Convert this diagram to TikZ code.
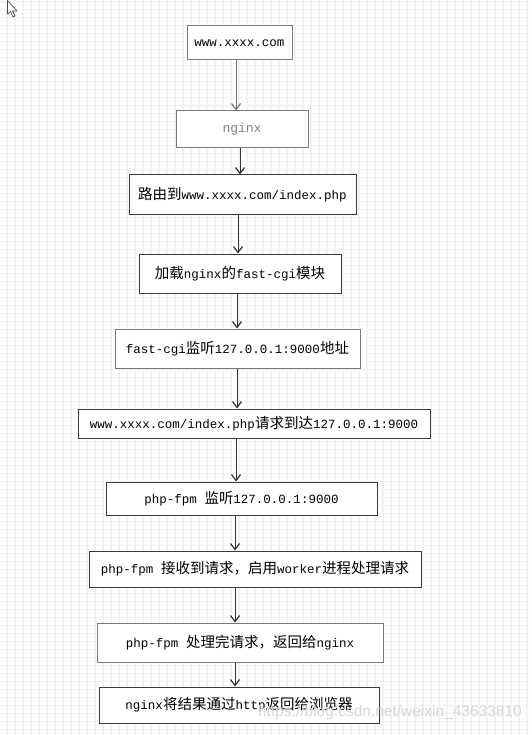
\documentclass[tikz,border=0pt]{standalone}
\usepackage{fontspec}
\setmainfont{Liberation Mono}
\newfontfamily\cjk{Noto Sans CJK SC}
\newfontfamily\wmfont{Liberation Sans}
\usetikzlibrary{arrows.meta}
\newcommand\zh[1]{{\fontsize{14.5}{16}\cjk #1}}
\definecolor{gridc}{HTML}{F2F2F2}
\definecolor{boxc}{HTML}{3A3A3A}
\definecolor{boxg}{HTML}{7A7A7A}
\definecolor{wmc}{HTML}{D6D6D6}
\tikzset{
  box/.style={draw=boxc, line width=1pt, fill=white, inner sep=0pt, font=\fontsize{12.5}{14}\selectfont},
  grayb/.style={draw=boxg},
  arr/.style={draw=black!80, line width=0.9pt, -{Straight Barb[length=6pt,width=9pt,line width=1.2pt]}},
  gline/.style={draw=gridc, line width=1.3pt}
}
\begin{document}
\begin{tikzpicture}[x=1pt,y=-1pt]
\useasboundingbox (0,0) rectangle (531,735);
\fill[white] (0,0) rectangle (531,735);
\foreach \k in {0,...,65} {\draw[gline] (7+8*\k,0) -- (7+8*\k,735);}
\foreach \k in {0,...,91} {\draw[gline] (0,1.5+8*\k) -- (531,1.5+8*\k);}
% cursor
\draw[draw=black!70, fill=white, line width=0.7pt, line join=round]
  (7.5,0.5) -- (7.5,14) -- (10.5,11.5) -- (13,17) -- (15,16) -- (12.5,11) -- (17,11) -- cycle;
% nodes
\node[box, grayb, minimum width=105, minimum height=34] (n1) at (239.5,43) {www.xxxx.com};
\node[box, grayb, minimum width=132, minimum height=37, text=black!50, font=\fontsize{13}{14}\selectfont] (n2) at (242,129.5) {nginx};
\node[box, minimum width=227, minimum height=40] (n3) at (242.5,195) {\zh{路由到}www.xxxx.com/index.php};
\node[box, minimum width=202, minimum height=39] (n4) at (240,273.5) {\zh{加载}nginx\zh{的}fast-cgi\zh{模块}};
\node[box, grayb, minimum width=245, minimum height=39] (n5) at (237.5,348.5) {fast-cgi\zh{监听}127.0.0.1:9000\zh{地址}};
\node[box, minimum width=352, minimum height=29] (n6) at (254,423.5) {www.xxxx.com/index.php\zh{请求到达}127.0.0.1:9000};
\node[box, minimum width=271, minimum height=33] (n7) at (241.5,498.5) {php-fpm \zh{监听}127.0.0.1:9000};
\node[box, minimum width=332, minimum height=36] (n8) at (255,569) {php-fpm \zh{接收到请求，启用}worker\zh{进程处理请求}};
\node[box, grayb, minimum width=286, minimum height=39] (n9) at (240,642.5) {php-fpm \zh{处理完请求，返回给}nginx};
\node[box, minimum width=280, minimum height=36] (n10) at (239,705) {nginx\zh{将结果通过}http\zh{返回给浏览器}};
% connectors
\draw[arr, draw=black!55] ([xshift=-3.5pt]n1.south) -- ([xshift=-6pt]n2.north);
\draw[arr] ([xshift=-2pt]n2.south) -- ([xshift=-2.5pt]n3.north);
\draw[arr] ([xshift=-4.5pt]n3.south) -- ([xshift=-2pt]n4.north);
\draw[arr] ([xshift=-3pt]n4.south) -- ([xshift=-0.5pt]n5.north);
\draw[arr] ([xshift=-0.5pt]n5.south) -- ([xshift=-17pt]n6.north);
\draw[arr] ([xshift=-18pt]n6.south) -- ([xshift=-5.5pt]n7.north);
\draw[arr] ([xshift=-6.5pt]n7.south) -- ([xshift=-20pt]n8.north);
\draw[arr] ([xshift=-20pt]n8.south) -- ([xshift=-5pt]n9.north);
\draw[arr] ([xshift=-5pt]n9.south) -- ([xshift=-4pt]n10.north);
% watermark
\node[text=wmc, font=\wmfont\fontsize{15.5}{16}\selectfont, inner sep=0pt, anchor=east] (wm) at (522,712) {https://blog.csdn.net/weixin\_43633810};
\end{tikzpicture}
\end{document}
